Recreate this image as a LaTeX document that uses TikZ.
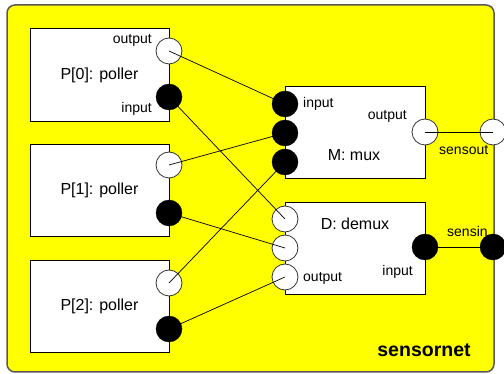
\documentclass[tikz,border=0pt]{standalone}
\usepackage{fontspec}
\setmainfont{Liberation Sans}
\definecolor{bgyellow}{RGB}{255,255,0}
\begin{document}
\begin{tikzpicture}[x=1pt,y=-1pt,
  outerbox/.style={draw=black!65,line width=1.5pt,fill=bgyellow,rounded corners=8pt},
  partbox/.style={draw=black,line width=0.9pt,fill=white},
  outport/.style={circle,draw=black!80,line width=0.8pt,fill=white,minimum size=26pt,inner sep=0pt},
  inport/.style={circle,draw=black,fill=black,minimum size=26pt,inner sep=0pt},
  wire/.style={draw=black,line width=0.7pt},
  big/.style={font=\fontsize{16}{18}\selectfont,inner sep=0pt},
  small/.style={font=\fontsize{14}{16}\selectfont,inner sep=0pt},
  title/.style={font=\fontsize{19.5}{22}\selectfont\bfseries,inner sep=0pt}]
\useasboundingbox (0,0) rectangle (504,374);
\fill[white] (0,0) rectangle (504,374);
\draw[outerbox] (7,5) rectangle (494,372);
\node[title] (net) at (424,350) {sensornet};
% parts
\draw[partbox] (30,28) rectangle (169,121);
\draw[partbox] (30,144) rectangle (169,236);
\draw[partbox] (30,260) rectangle (169,352);
\draw[partbox] (285,86) rectangle (425,178);
\draw[partbox] (285,202) rectangle (425,294);
\node[big] (p0) at (99.5,75) {P[0]: poller};
\node[big] (p1) at (99.5,190) {P[1]: poller};
\node[big] (p2) at (99.5,306) {P[2]: poller};
\node[big] (m) at (354,155) {M: mux};
\node[big] (d) at (355,224) {D: demux};
% labels
\node[small,anchor=east] (l1) at (152,40) {output};
\node[small,anchor=east] (l2) at (152,109) {input};
\node[small,anchor=west] (l3) at (303,104) {input};
\node[small,anchor=east] (l4) at (407,116) {output};
\node[small,anchor=west] (l5) at (439,150) {sensout};
\node[small,anchor=west] (l6) at (303,278) {output};
\node[small,anchor=east] (l7) at (413,272) {input};
\node[small,anchor=west] (l8) at (447,231) {sensin};
% ports
\node[outport] (p0o) at (169,51) {};
\node[inport]  (p0i) at (169,97) {};
\node[outport] (p1o) at (169,165) {};
\node[inport]  (p1i) at (169,213) {};
\node[outport] (p2o) at (169,283) {};
\node[inport]  (p2i) at (169,329) {};
\node[inport]  (mi1) at (285,104) {};
\node[inport]  (mi2) at (285,133) {};
\node[inport]  (mi3) at (285,162) {};
\node[outport] (mo)  at (425,132) {};
\node[outport] (so)  at (493,132) {};
\node[outport] (do1) at (285,219) {};
\node[outport] (do2) at (285,248) {};
\node[outport] (do3) at (285,277) {};
\node[inport]  (di)  at (425,247) {};
\node[inport]  (si)  at (493,247) {};
% wires
\draw[wire] (p0o.center) -- (mi1.center);
\draw[wire] (p1o.center) -- (mi2.center);
\draw[wire] (p2o.center) -- (mi3.center);
\draw[wire] (p0i.center) -- (do1.center);
\draw[wire] (p1i.center) -- (do2.center);
\draw[wire] (p2i.center) -- (do3.center);
\draw[wire] (mo.center) -- (so.center);
\draw[wire] (di.center) -- (si.center);
\end{tikzpicture}
\end{document}
